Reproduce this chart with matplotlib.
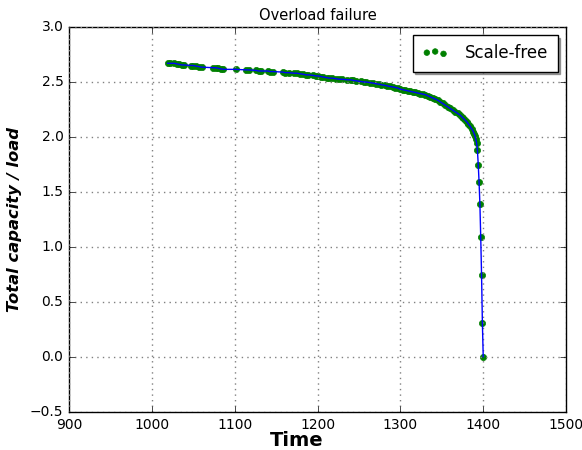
import matplotlib
matplotlib.use("Agg")
import matplotlib.pyplot as plt

plt.style.use("classic")

time = [1019, 1022, 1027, 1030, 1033, 1036, 1039, 1047, 1050, 1053, 1057, 1060,
        1074, 1077, 1080, 1083, 1086, 1101, 1114, 1117, 1126, 1129, 1132, 1140,
        1143, 1146, 1158, 1161, 1165, 1172, 1175, 1179, 1183, 1186, 1189, 1195,
        1198, 1201, 1204, 1207, 1211, 1214, 1217, 1222, 1226, 1230, 1236, 1240,
        1243, 1247, 1252, 1256, 1259, 1263, 1267, 1270, 1274, 1277, 1281, 1284,
        1287, 1291, 1294, 1297, 1300, 1303, 1306, 1309, 1312, 1315, 1318, 1321,
        1324, 1327, 1330, 1333, 1336, 1339, 1342, 1345, 1348, 1351, 1354, 1357,
        1360, 1363, 1366, 1369, 1372, 1374, 1376, 1378, 1380, 1382, 1384, 1386,
        1388, 1389, 1390, 1391, 1392, 1393, 1394, 1395, 1396, 1397, 1398, 1399,
        1400]
ratio = [2.67, 2.67, 2.67, 2.665, 2.66, 2.655, 2.655, 2.65, 2.65, 2.645, 2.64, 2.635,
         2.63, 2.63, 2.625, 2.62, 2.615, 2.615, 2.61, 2.61, 2.605, 2.60, 2.60, 2.60,
         2.595, 2.595, 2.59, 2.585, 2.585, 2.58, 2.58, 2.575, 2.57, 2.565, 2.565, 2.56,
         2.555, 2.555, 2.55, 2.545, 2.54, 2.535, 2.535, 2.53, 2.525, 2.525, 2.52, 2.52,
         2.515, 2.51, 2.505, 2.50, 2.50, 2.495, 2.49, 2.485, 2.48, 2.475, 2.47, 2.465,
         2.46, 2.455, 2.45, 2.445, 2.435, 2.43, 2.425, 2.42, 2.415, 2.41, 2.405, 2.40,
         2.395, 2.39, 2.385, 2.375, 2.365, 2.355, 2.345, 2.335, 2.32, 2.305, 2.29, 2.275,
         2.26, 2.245, 2.23, 2.215, 2.20, 2.185, 2.17, 2.155, 2.14, 2.12, 2.10, 2.075,
         2.05, 2.03, 2.01, 1.98, 1.95, 1.88, 1.75, 1.59, 1.39, 1.09, 0.745, 0.31,
         0.003]

fig = plt.figure(figsize=(5.82, 4.5), dpi=100, facecolor="white")
ax = fig.add_axes([0.1186, 0.0844, 0.854, 0.8556])
ax.set_facecolor("white")

ax.scatter(time, ratio, s=20, c="green", edgecolors="green", linewidths=0.5,
           label="Scale-free", zorder=2)
ax.plot(time, ratio, "b-", linewidth=1, zorder=3)

ax.set_xlim(900, 1500)
ax.set_ylim(-0.5, 3.0)
ax.set_xticks([900, 1000, 1100, 1200, 1300, 1400, 1500])
ax.set_yticks([-0.5, 0.0, 0.5, 1.0, 1.5, 2.0, 2.5, 3.0])
ax.tick_params(labelsize=10)
ax.grid(True, color="gray", linestyle=":", linewidth=1)

ax.set_title("Overload failure", fontsize=10.5, family="DejaVu Sans")
ax.set_xlabel("Time", fontsize=14, fontweight="bold")
ax.xaxis.set_label_coords(0.459, -0.048)
ax.set_ylabel("Total capacity / load", fontsize=11.8, fontweight="bold", style="italic")
ax.yaxis.set_label_coords(-0.095, 0.5)

ax.legend(loc="upper right", scatterpoints=3, shadow=True, fontsize=12, frameon=True,
          borderpad=0.55, handlelength=1.6, handletextpad=1.0,
          scatteryoffsets=[0.5, 0.6, 0.4], markerscale=0.9)

fig.savefig("out.png", dpi=100, facecolor="white")
